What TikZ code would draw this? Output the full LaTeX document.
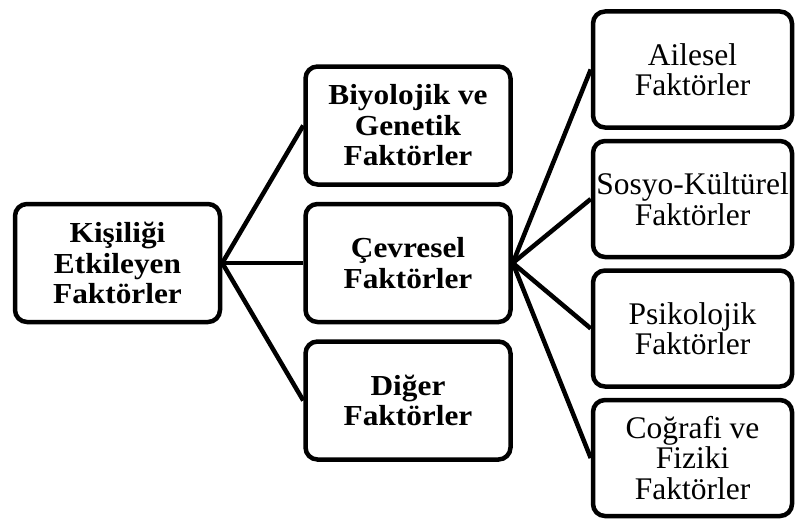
\documentclass[tikz,border=0pt]{standalone}
\usepackage{fontspec}
\setmainfont{Liberation Serif}[BoldFeatures={FakeStretch=1.08}]
\usetikzlibrary{positioning}

\begin{document}
\begin{tikzpicture}[
    x=1pt, y=1pt,
    node distance=9pt,
    factor/.style={draw,line width=4.5pt,rounded corners=12pt,align=center,inner sep=1.5pt},
    main/.style={factor,minimum width=205pt,minimum height=118pt,font=\fontsize{29}{30.5}\selectfont\bfseries},
    sub/.style={factor,minimum width=199pt,minimum height=116pt,font=\fontsize{31.5}{30.5}\selectfont},
    link/.style={line width=4.5pt},
]

\useasboundingbox (0,0) rectangle (797,-519);

%----------------------------------
% Root and main factors
%----------------------------------

\node[main] (root) at (117.5,-263) {Kişiliği\\Etkileyen\\Faktörler};

\node[main,right=81pt of root] (cev) {Çevresel\\Faktörler};
\node[main,above=15pt of cev] (bio) {Biyolojik ve\\Genetik\\Faktörler};
\node[main,below=15pt of cev] (diger) {Diğer\\Faktörler};

\draw[link] (root.east) -- (bio.west);
\draw[link] (root.east) -- (cev.west);
\draw[link] (root.east) -- (diger.west);

%----------------------------------
% Environmental factors
%----------------------------------

\node[sub,right=78pt of cev,yshift=64pt] (sosyo) {Sosyo-Kültürel\\Faktörler};
\node[sub,above=of sosyo] (aile) {Ailesel\\Faktörler};
\node[sub,below=of sosyo] (psiko) {Psikolojik\\Faktörler};
\node[sub,below=of psiko] (cograf) {Coğrafi ve\\Fiziki\\Faktörler};

\draw[link] (cev.east) -- (aile.west);
\draw[link] (cev.east) -- (sosyo.west);
\draw[link] (cev.east) -- (psiko.west);
\draw[link] (cev.east) -- (cograf.west);

\end{tikzpicture}
\end{document}
